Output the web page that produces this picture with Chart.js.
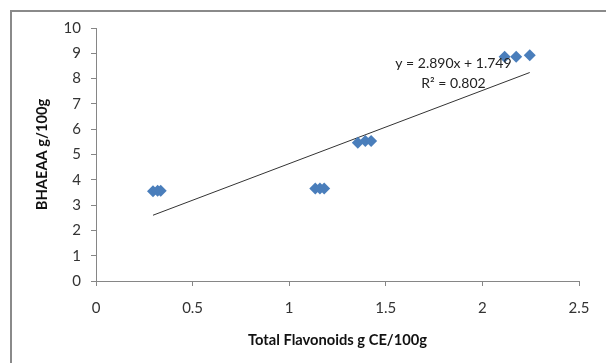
<!DOCTYPE html>
<html>
<head>
<meta charset="utf-8">
<script src="https://cdn.jsdelivr.net/npm/chart.js@4"></script>
<style>
  html, body { margin: 0; padding: 0; background: #fff; }
  canvas { display: block; }
</style>
</head>
<body>
<canvas id="scatterChart" width="606" height="363"></canvas>
<script>
// values
const flavonoids = [0.295, 0.319, 0.335, 1.135, 1.159, 1.181, 1.355, 1.394, 1.424, 2.115, 2.175, 2.245];
const bhaeaa     = [3.55, 3.57, 3.57, 3.66, 3.66, 3.66, 5.46, 5.53, 5.53, 8.86, 8.86, 8.92];

// trend line ends (y = 2.890x + 1.749 over the data range)
const trendX = [0.295, 2.245];
const trendY = [2.60, 8.24];

const trendLabels = ["y = 2.890x + 1.749", "R\u00B2 = 0.802"];

const xTicks = [0, 0.5, 1, 1.5, 2, 2.5];
const yTicks = [0, 1, 2, 3, 4, 5, 6, 7, 8, 9, 10];

const FONT = "Lato";
const AXIS_GREY = "#868686";

/* outer frame + trend equation text */
const extras = {
  id: "extras",
  beforeDraw(chart) {
    const ctx = chart.ctx;
    ctx.save();
    ctx.strokeStyle = "#8a8a8a";
    ctx.lineWidth = 2;
    ctx.strokeRect(11, 11, 800, 800);
    ctx.restore();
  },
  afterDraw(chart) {
    const { ctx, scales: { x, y } } = chart;
    ctx.save();
    ctx.font = "14px " + FONT;
    ctx.fillStyle = "#222";
    ctx.textAlign = "center";
    ctx.textBaseline = "middle";
    const cx = x.getPixelForValue(1.85);
    ctx.fillText(trendLabels[0], cx, y.getPixelForValue(8.58));
    ctx.fillText(trendLabels[1], cx, y.getPixelForValue(7.79));
    ctx.restore();
  }
};

const points = flavonoids.map((v, i) => ({ x: v, y: bhaeaa[i] }));
const trend = trendX.map((v, i) => ({ x: v, y: trendY[i] }));

new Chart(document.getElementById("scatterChart"), {
  type: "scatter",
  data: {
    datasets: [
      {
        label: "BHAEAA",
        data: points,
        pointStyle: "rectRot",
        pointRadius: 6,
        pointHoverRadius: 6,
        backgroundColor: "#4a7ebb",
        borderWidth: 0,
        order: 1
      },
      {
        type: "line",
        label: "Trend",
        data: trend,
        borderColor: "#333",
        borderWidth: 1,
        pointRadius: 0,
        fill: false,
        order: 2
      }
    ]
  },
  options: {
    responsive: false,
    animation: false,
    events: [],
    layout: { padding: { left: 0, top: 28, right: 27, bottom: 0 } },
    plugins: {
      legend: { display: false },
      tooltip: { enabled: false }
    },
    scales: {
      x: {
        type: "linear",
        min: 0,
        max: 2.5,
        afterBuildTicks(s) { s.ticks = xTicks.map(v => ({ value: v })); },
        afterFit(s) { s.height = 82; },
        grid: { drawOnChartArea: false, drawTicks: true, tickLength: 5, color: AXIS_GREY },
        border: { color: AXIS_GREY, width: 1 },
        ticks: {
          padding: 13,
          color: "#333",
          font: { family: FONT, size: 15 },
          callback: v => String(v)
        },
        title: {
          display: true,
          text: "Total Flavonoids g CE/100g",
          color: "#111",
          font: { family: FONT, size: 14.7, weight: "bold" },
          padding: 14
        }
      },
      y: {
        type: "linear",
        min: 0,
        max: 10,
        afterBuildTicks(s) { s.ticks = yTicks.map(v => ({ value: v })); },
        afterFit(s) { s.width = 96; },
        grid: { drawOnChartArea: false, drawTicks: true, tickLength: 5, color: AXIS_GREY },
        border: { color: AXIS_GREY, width: 1 },
        ticks: {
          padding: 10,
          color: "#333",
          font: { family: FONT, size: 15 },
          callback: v => String(v)
        },
        title: {
          display: true,
          text: "BHAEAA g/100g",
          color: "#111",
          font: { family: FONT, size: 14.7, weight: "bold" },
          padding: 33
        }
      }
    }
  },
  plugins: [extras]
});
</script>
</body>
</html>
